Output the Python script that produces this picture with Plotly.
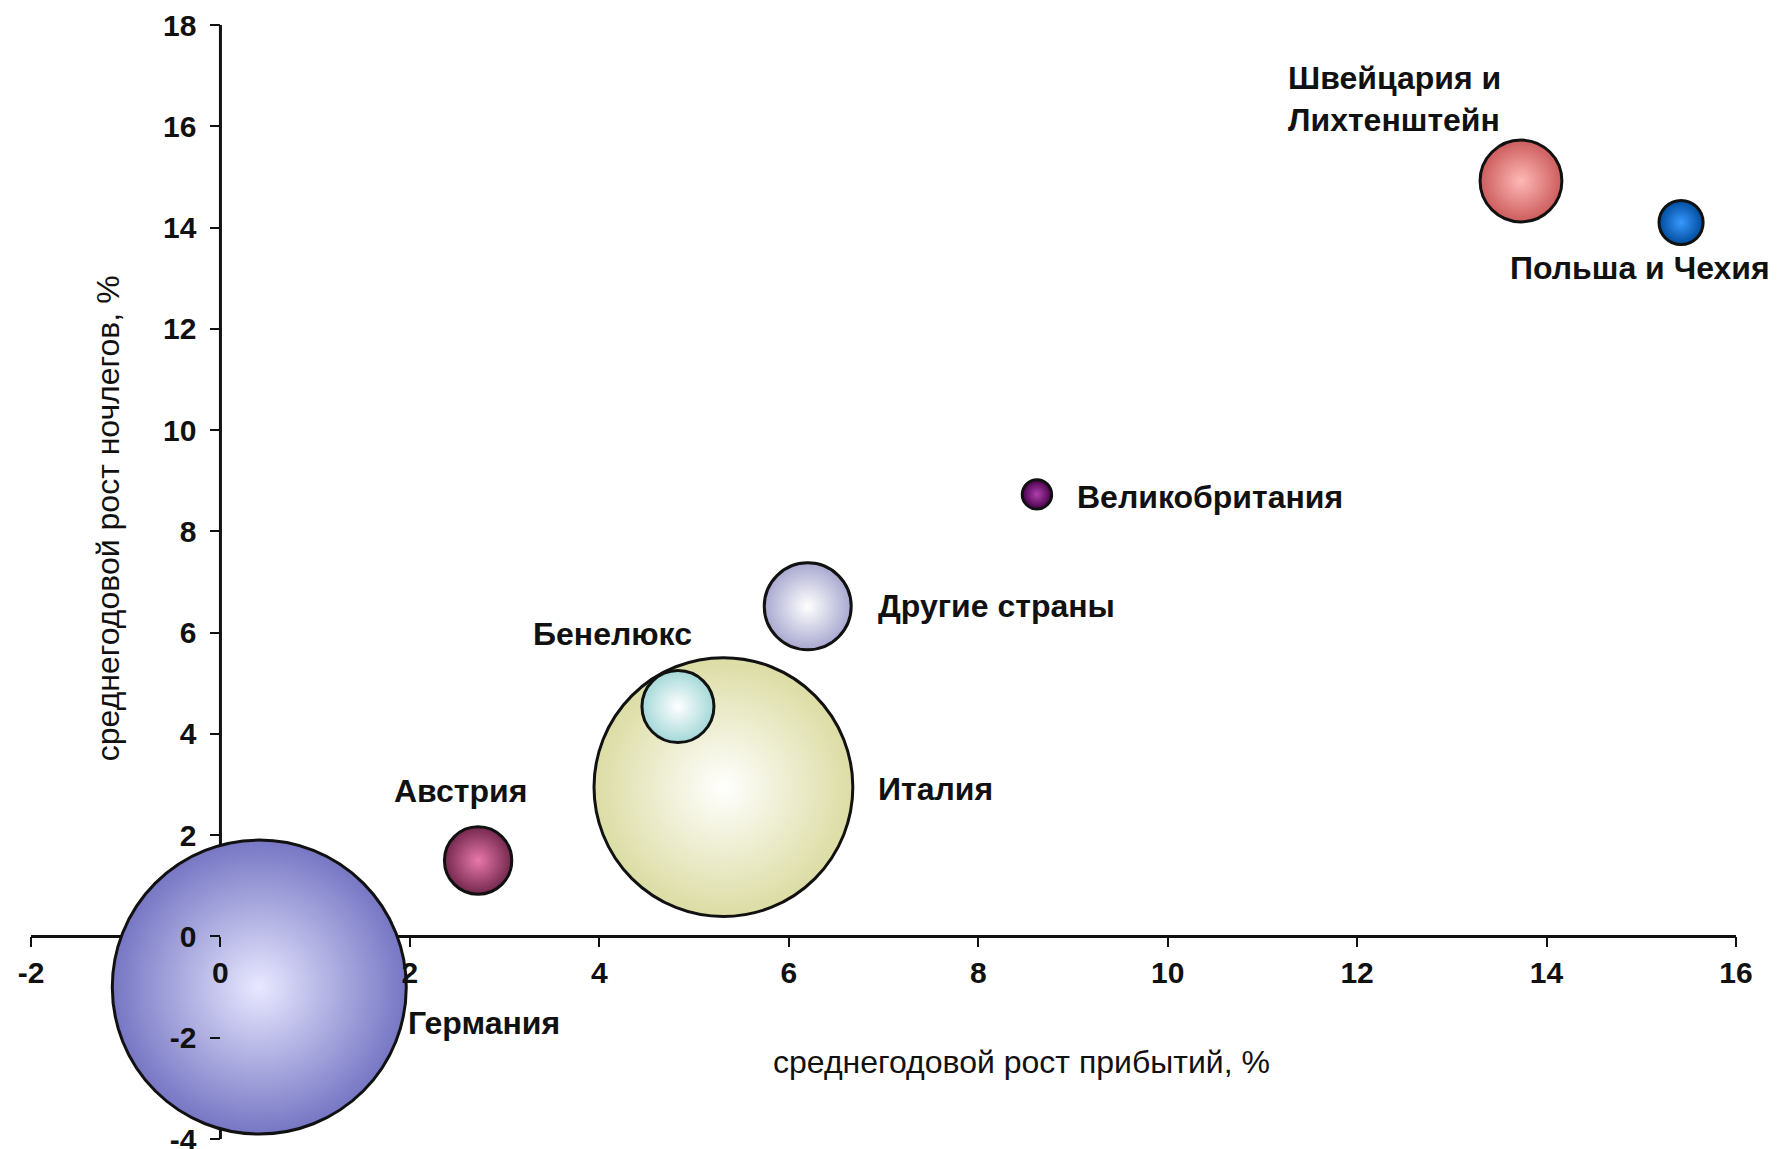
import plotly.graph_objects as go

countries = ["Германия", "Австрия", "Италия", "Бенелюкс", "Другие страны",
             "Великобритания", "Швейцария и<br>Лихтенштейн", "Польша и Чехия"]
arrivals_growth = [0.41, 2.72, 5.31, 4.83, 6.20, 8.62, 13.73, 15.42]
nights_growth = [-1.0, 1.5, 2.95, 4.54, 6.52, 8.73, 14.92, 14.10]
share = [40.0, 2.1, 31.0, 2.4, 3.5, 0.4, 3.1, 0.9]

light_colors = ["#e8e8ff", "#e878aa", "#ffffff", "#ffffff", "#ffffff", "#b040b0", "#ffb8b8", "#3898ff"]
edge_colors = ["#7676c4", "#74284e", "#dcdca4", "#a4d8d8", "#a8a8d0", "#480048", "#cc5c5c", "#004c9c"]

# label placement (pixel offsets from the bubble centre)
lab_xanchor = ["left", "center", "left", "center", "left", "left", "left", "left"]
lab_xshift = [147, -18, 153, -65, 68, 38, -235, -173]
lab_yshift = [-36, 70, -2, 73, 0, -3, 82, -46]

x_ticks = list(range(-2, 17, 2))
y_ticks = list(range(-4, 19, 2))
x_range = [-2, 16]
y_range = [-4, 18]

max_diam = 294
sizeref = 2.0 * max(share) / (max_diam ** 2)

fig = go.Figure()
for i in range(len(countries)):
    fig.add_trace(go.Scatter(
        x=[arrivals_growth[i]], y=[nights_growth[i]],
        mode="markers",
        marker=dict(size=[share[i]], sizemode="area", sizeref=sizeref,
                    color=edge_colors[i],
                    gradient=dict(type="radial", color=light_colors[i]),
                    line=dict(color="#111111", width=3), opacity=1),
        showlegend=False, hoverinfo="skip",
    ))

# axis lines crossing at zero, drawn beneath the bubbles
fig.add_shape(type="line", xref="x", yref="y", x0=x_range[0], x1=x_range[1], y0=0, y1=0,
              line=dict(color="#111111", width=3), layer="below")
fig.add_shape(type="line", xref="x", yref="y", x0=0, x1=0, y0=y_range[0], y1=y_range[1],
              line=dict(color="#111111", width=3), layer="below")

FAM = "Liberation Sans, Arial, sans-serif"
lab_font = dict(family=FAM, size=32, color="#111111")
for i, name in enumerate(countries):
    fig.add_annotation(x=arrivals_growth[i], y=nights_growth[i], xref="x", yref="y",
                       text="<b>" + name + "</b>", showarrow=False,
                       xanchor=lab_xanchor[i], yanchor="middle", align="left",
                       xshift=lab_xshift[i], yshift=lab_yshift[i], font=lab_font)

title_font = dict(family=FAM, size=32, color="#111111")
fig.add_annotation(text="среднегодовой рост прибытий, %", xref="paper", yref="paper",
                   x=0.581, y=0.069, showarrow=False, xanchor="center", yanchor="middle", font=title_font)
fig.add_annotation(text="среднегодовой рост ночлегов, %", xref="paper", yref="paper",
                   x=0.045, y=0.557, showarrow=False, textangle=-90,
                   xanchor="center", yanchor="middle", font=title_font)

tick_font = dict(family=FAM, size=30, color="#111111")
x_pos = (0 - y_range[0]) / (y_range[1] - y_range[0])
y_pos = (0 - x_range[0]) / (x_range[1] - x_range[0])
fig.update_layout(
    width=1786, height=1149,
    margin=dict(l=23, r=58, t=17, b=18, autoexpand=False),
    paper_bgcolor="white", plot_bgcolor="white",
    xaxis=dict(range=x_range, tickvals=x_ticks, ticktext=["<b>%d</b>" % v for v in x_ticks],
               showgrid=False, zeroline=False, showline=False,
               ticks="outside", ticklen=10, tickwidth=2, tickcolor="#111111", automargin=False,
               anchor="free", position=x_pos, tickfont=tick_font, domain=[0, 1]),
    yaxis=dict(range=y_range, tickvals=y_ticks, ticktext=["<b>%d</b>" % v for v in y_ticks],
               showgrid=False, zeroline=False, showline=False,
               ticks="outside", ticklen=10, tickwidth=2, tickcolor="#111111", automargin=False,
               ticklabelstandoff=8,
               anchor="free", position=y_pos, tickfont=tick_font, domain=[0, 1]),
)

fig.write_html("out.html")
